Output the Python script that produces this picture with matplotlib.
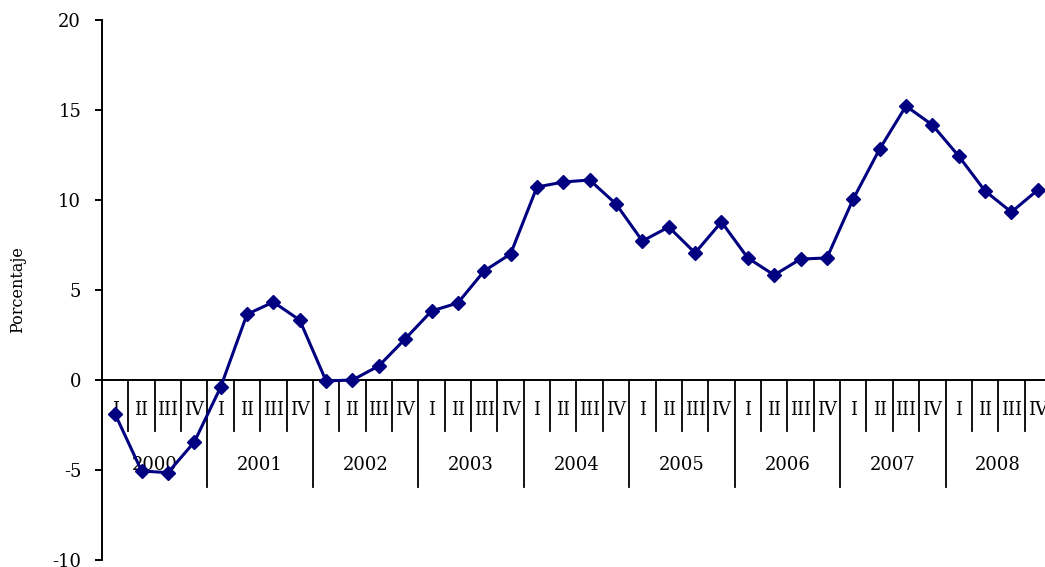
import matplotlib
matplotlib.use("Agg")
import matplotlib.pyplot as plt

years = ["2000", "2001", "2002", "2003", "2004", "2005", "2006", "2007", "2008"]
quarters = ["I", "II", "III", "IV"]
values = [
    -1.9, -5.05, -5.15, -3.45,
    -0.4, 3.65, 4.33, 3.33,
    -0.05, 0.0, 0.78, 2.28,
    3.83, 4.28, 6.06, 7.0,
    10.72, 11.0, 11.11, 9.78,
    7.72, 8.5, 7.06, 8.78,
    6.78, 5.83, 6.72, 6.78,
    10.06, 12.83, 15.22, 14.17,
    12.44, 10.5, 9.33, 10.56,
]
yticks = [-10, -5, 0, 5, 10, 15, 20]

plt.rcParams['font.family'] = ['DejaVu Serif']

W, H = 1045, 567
fig = plt.figure(figsize=(W / 100, H / 100), dpi=100)
left_px, top_px, bottom_px = 102, 20, 560
ax = fig.add_axes([left_px / W, 1 - bottom_px / H, (W - left_px) / W, (bottom_px - top_px) / H])

qw = 26.36  # px per quarter
nq = len(years) * 4
ax.set_xlim(0, (W - left_px) / qw)
ax.set_ylim(-10, 20)

x = [i + 0.5 for i in range(nq)]
ax.plot(x, values, color='#000080', lw=2.2, marker='D', ms=7, clip_on=False, zorder=5)

for s in ['top', 'right']:
    ax.spines[s].set_visible(False)
ax.spines['bottom'].set_position(('data', 0))
ax.spines['bottom'].set_linewidth(1.4)
ax.spines['left'].set_linewidth(1.4)
ax.set_xticks([])
ax.set_yticks(yticks)
ax.set_yticklabels([str(v) for v in yticks], fontsize=13)
ax.tick_params(axis='y', direction='out', length=5, width=1.4, pad=10)

q_len = 51 / 18.0
y_len = 107 / 18.0
for i in range(1, nq + 1):
    if i % 4 == 0:
        ax.plot([i, i], [0, -y_len], color='black', lw=1.3, clip_on=False, zorder=2)
    else:
        ax.plot([i, i], [0, -q_len], color='black', lw=1.3, clip_on=False, zorder=2)

for i in range(nq):
    ax.text(i + 0.5, -30 / 18.0, quarters[i % 4], ha='center', va='center', fontsize=13, zorder=3)
for j, yr in enumerate(years):
    ax.text(j * 4 + 2, -85 / 18.0, yr, ha='center', va='center', fontsize=13, zorder=3)

fig.text(18 / W, 1 - 290 / H, "Porcentaje", rotation=90, ha='center', va='center', fontsize=11.5)

fig.savefig("out.png", dpi=100)
